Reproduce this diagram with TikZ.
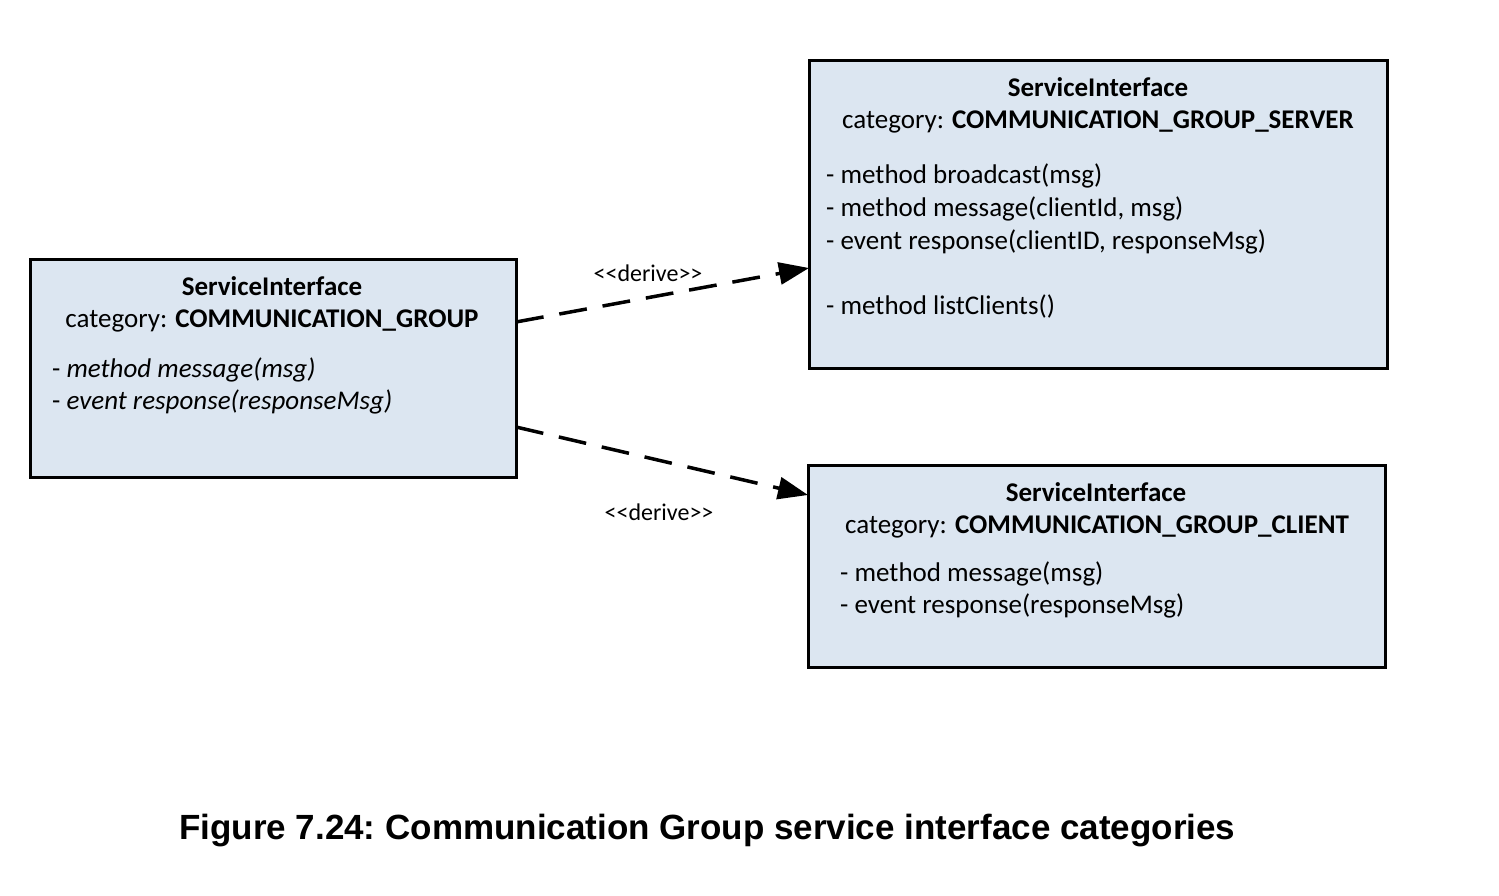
\documentclass[tikz,border=0pt]{standalone}
\usepackage{fontspec}
\setmainfont{Carlito}
\newfontfamily\capfont{Liberation Sans}
\usetikzlibrary{arrows.meta}
\definecolor{boxfill}{RGB}{220,230,241}
\begin{document}
\begin{tikzpicture}[x=1pt,y=-1pt,
 box/.style={draw=black, line width=3pt, fill=boxfill, rectangle, inner sep=0pt, outer sep=0pt, anchor=north west},
 txt/.style={inner sep=0pt, text height=18pt, text depth=6pt, font=\fontsize{27}{32}\selectfont},
 item/.style={txt, anchor=west},
 lbl/.style={inner sep=0pt, font=\fontsize{24}{29}\selectfont},
 derive/.style={line width=3.5pt, dash pattern=on 28pt off 16pt, -{Triangle[length=30pt,width=22pt]}}
]
\useasboundingbox (0,0) rectangle (1499,896);
% boxes
\node[box, minimum width=486pt, minimum height=218pt] (g) at (30,259) {};
\node[box, minimum width=578pt, minimum height=307pt] (s) at (809,61) {};
\node[box, minimum width=577pt, minimum height=202pt] (c) at (808,465) {};
\begin{scope}[yshift=-3pt]
% left box text
\node[txt] (gt) at (272,286) {\textbf{ServiceInterface}};
\node[txt] (gc) at (272,318) {category: \textbf{COMMUNICATION\_GROUP}};
\node[item] (g1) at (52,368) {- \textit{method message(msg)}};
\node[item] (g2) at (52,400) {- \textit{event response(responseMsg)}};
% server box text
\node[txt] (st) at (1098,88) {\textbf{ServiceInterface}};
\node[txt] (sc) at (1098,120) {category: \textbf{COMMUNICATION\_GROUP\_SERVER}};
\node[item] (s1) at (826,175) {- method broadcast(msg)};
\node[item] (s2) at (826,208) {- method message(clientId, msg)};
\node[item] (s3) at (826,240) {- event response(clientID, responseMsg)};
\node[item] (s4) at (826,305) {- method listClients()};
% client box text
\node[txt] (ct) at (1096,492) {\textbf{ServiceInterface}};
\node[txt] (cc) at (1097,524) {category: \textbf{COMMUNICATION\_GROUP\_CLIENT}};
\node[item] (c1) at (840,572) {- method message(msg)};
\node[item] (c2) at (840,604) {- event response(responseMsg)};
\end{scope}
% connectors
\draw[derive] ([yshift=-63pt]g.north east) -- ([yshift=-207pt]s.north west);
\draw[derive] ([yshift=-168pt]g.north east) -- ([yshift=-30pt]c.north west);
\node[lbl] (l1) at (648,273) {<{}<derive>{}>};
\node[lbl] (l2) at (659,512) {<{}<derive>{}>};
% caption
\node[inner sep=0pt, anchor=west, font=\capfont\bfseries\fontsize{35}{42}\selectfont] (cap) at (179,831) {\frenchspacing Figure 7.24: Communication Group service interface categories};
\end{tikzpicture}
\end{document}
